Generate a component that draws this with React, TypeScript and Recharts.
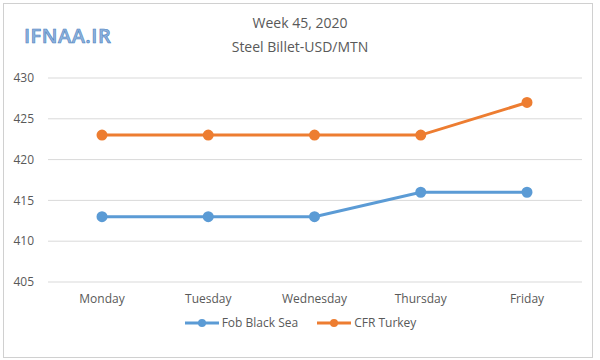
import React from "react";
import { LineChart, Line, XAxis, YAxis, CartesianGrid } from "recharts";

const days = ["Monday", "Tuesday", "Wednesday", "Thursday", "Friday"];
const fobBlackSea = [413, 413, 413, 416, 416];
const cfrTurkey = [423, 423, 423, 423, 427];
const yTicks = [405, 410, 415, 420, 425, 430];

const data = days.map((d, i) => ({ day: d, fob: fobBlackSea[i], cfr: cfrTurkey[i] }));

const BLUE = "#5B9BD5";
const ORANGE = "#ED7D31";
const TEXT = "#595959";
const FONT = "'Open Sans', 'Liberation Sans', sans-serif";

const legendItems = [
  { name: "Fob Black Sea", color: BLUE },
  { name: "CFR Turkey", color: ORANGE },
];

const LegendContent = () => (
  <div style={{ display: "flex", justifyContent: "center", gap: 18, fontFamily: FONT, fontSize: 12, color: TEXT }}>
    {legendItems.map((it) => (
      <div key={it.name} style={{ display: "flex", alignItems: "center" }}>
        <svg width={36} height={12} style={{ marginRight: 2 }}>
          <line x1={1} y1={6} x2={35} y2={6} stroke={it.color} strokeWidth={3} />
          <circle cx={18} cy={6} r={4} fill={it.color} />
        </svg>
        <span>{it.name}</span>
      </div>
    ))}
  </div>
);

export default function App() {
  return (
    <div style={{ position: "absolute", left: 0, top: 0, width: 600, height: 360, background: "#fff" }}>
      <div
        style={{
          position: "absolute",
          left: 3,
          top: 3,
          width: 590,
          height: 355,
          border: "1px solid #D0D0D0",
          boxSizing: "border-box",
        }}
      />
      <div
        style={{
          position: "absolute",
          left: 24,
          top: 22,
          fontFamily: FONT,
          fontSize: 20,
          fontWeight: 600,
          color: "#8FB3DC",
          WebkitTextStroke: "0.6px #4A7FC0",
          letterSpacing: 0.5,
        }}
      >
        IFNAA.IR
      </div>
      <div
        style={{
          position: "absolute",
          left: 0,
          width: 600,
          top: 11,
          textAlign: "center",
          fontFamily: FONT,
          fontSize: 14,
          color: TEXT,
          lineHeight: "24px",
        }}
      >
        <div>Week 45, 2020</div>
        <div>Steel Billet-USD/MTN</div>
      </div>
      <div style={{ position: "absolute", left: 0, top: 0 }}>
        <LineChart width={600} height={360} data={data} margin={{ top: 78, right: 18, bottom: 48, left: 0 }}>
          <CartesianGrid vertical={false} stroke="#D9D9D9" />
          <XAxis
            dataKey="day"
            axisLine={false}
            tickLine={false}
            padding={{ left: 54, right: 55 }}
            tick={{ fill: TEXT, fontSize: 12, fontFamily: FONT }}
            tickMargin={6}
            height={30}
          />
          <YAxis
            domain={[405, 430]}
            ticks={yTicks}
            axisLine={false}
            tickLine={false}
            width={48}
            tickMargin={8}
            tick={{ fill: TEXT, fontSize: 12, fontFamily: FONT }}
          />
          <Line
            type="linear"
            dataKey="fob"
            name="Fob Black Sea"
            stroke={BLUE}
            strokeWidth={3}
            dot={{ r: 4, fill: BLUE, stroke: BLUE }}
            isAnimationActive={false}
          />
          <Line
            type="linear"
            dataKey="cfr"
            name="CFR Turkey"
            stroke={ORANGE}
            strokeWidth={3}
            dot={{ r: 4, fill: ORANGE, stroke: ORANGE }}
            isAnimationActive={false}
          />
        </LineChart>
      </div>
      <div style={{ position: "absolute", left: 0, top: 314, width: 600 }}>
        <LegendContent />
      </div>
    </div>
  );
}
